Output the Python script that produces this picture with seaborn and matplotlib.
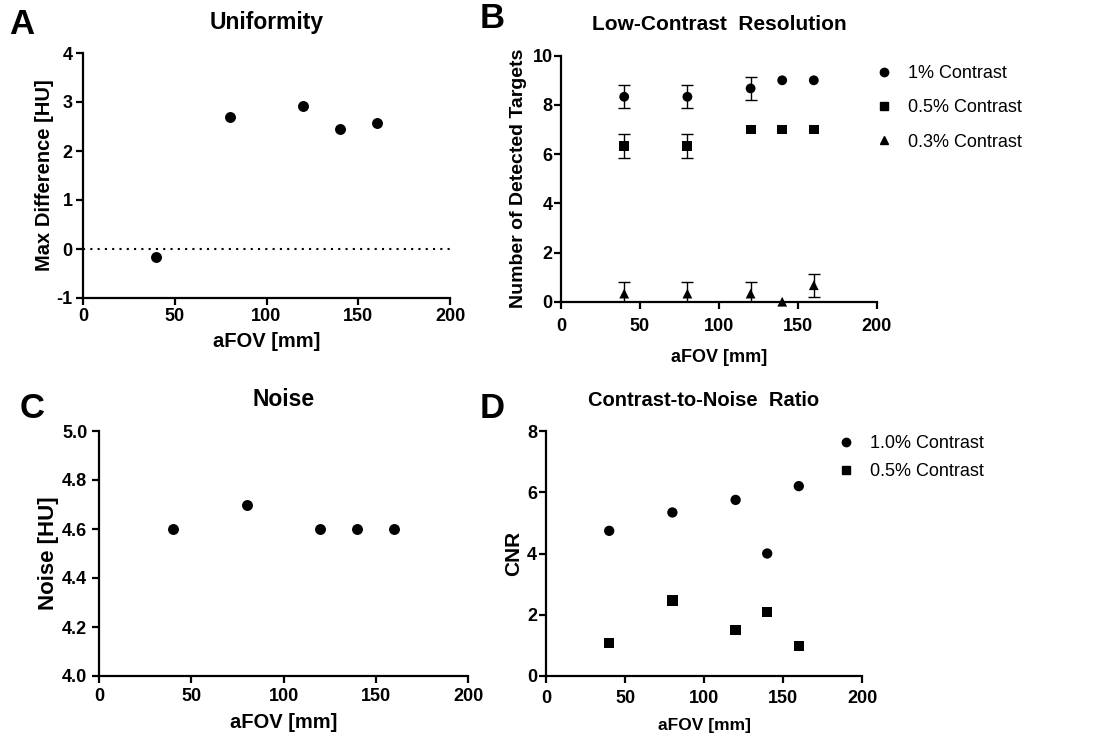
import numpy as np
import pandas as pd
import matplotlib
matplotlib.use("Agg")
import matplotlib.pyplot as plt
import seaborn as sns
from matplotlib.lines import Line2D

# ---------------- data ----------------
afov = [40, 80, 120, 140, 160]
unif_maxdiff = [-0.17, 2.70, 2.92, 2.45, 2.57]

lcr_1pct = [8.33, 8.33, 8.67, 9.0, 9.0]
lcr_1pct_err = [0.47, 0.47, 0.47, 0.0, 0.0]
lcr_05pct = [6.33, 6.33, 7.0, 7.0, 7.0]
lcr_05pct_err = [0.47, 0.47, 0.0, 0.0, 0.0]
lcr_03pct = [0.33, 0.33, 0.33, 0.0, 0.67]
lcr_03pct_err = [0.47, 0.47, 0.47, 0.0, 0.47]
lcr_labels = ["1% Contrast", "0.5% Contrast", "0.3% Contrast"]

noise_hu = [4.6, 4.7, 4.6, 4.6, 4.6]

cnr_1pct = [4.74, 5.34, 5.75, 4.0, 6.2]
cnr_05pct = [1.07, 2.47, 1.50, 2.08, 0.99]
cnr_labels = ["1.0% Contrast", "0.5% Contrast"]

panel_titles = ["Uniformity", "Low-Contrast  Resolution", "Noise", "Contrast-to-Noise  Ratio"]
panel_letters = ["A", "B", "C", "D"]
xlabel = "aFOV [mm]"
ylabels = ["Max Difference [HU]", "Number of Detected Targets", "Noise [HU]", "CNR"]

# ---------------- style ----------------
sns.set_style("ticks")
plt.rcParams["font.family"] = ["Liberation Sans", "DejaVu Sans"]
plt.rcParams["axes.unicode_minus"] = False
for k in ["text.color", "axes.labelcolor", "xtick.color", "ytick.color", "axes.edgecolor"]:
    plt.rcParams[k] = "black"

W, H = 1110, 738
fig = plt.figure(figsize=(W / 100, H / 100), dpi=100)


def px_axes(l, r, t, b):
    return fig.add_axes([l / W, 1 - b / H, (r - l) / W, (b - t) / H])


axA = px_axes(83, 450, 53, 298)
axB = px_axes(561, 877, 55.7, 301.7)
axC = px_axes(99, 468, 431, 676)
axD = px_axes(546, 862, 431, 676)

markers = {lcr_labels[0]: "o", lcr_labels[1]: "s", lcr_labels[2]: "^"}


def style_axis(ax, xpad, ypad):
    for s in ["top", "right"]:
        ax.spines[s].set_visible(False)
    for s in ["left", "bottom"]:
        ax.spines[s].set_linewidth(1.6)
        ax.spines[s].set_color("black")
    ax.tick_params(axis="both", direction="out", length=5, width=1.6,
                   color="black", labelcolor="black", labelsize=13)
    ax.tick_params(axis="x", pad=xpad)
    ax.tick_params(axis="y", pad=ypad)
    for lab in ax.get_xticklabels() + ax.get_yticklabels():
        lab.set_fontweight("bold")
    ax.grid(False)


# ---------------- A: uniformity ----------------
dfA = pd.DataFrame({"aFOV": afov, "val": unif_maxdiff})
sns.scatterplot(data=dfA, x="aFOV", y="val", ax=axA, color="black", s=62,
                marker="o", edgecolor="black", linewidth=0, zorder=3, clip_on=False)
axA.axhline(0, color="black", linestyle=(0, (1, 2.5)), linewidth=1.5, zorder=1)
axA.set_xlim(0, 200)
axA.set_ylim(-1, 4)
axA.set_xticks([0, 50, 100, 150, 200])
axA.set_yticks([-1, 0, 1, 2, 3, 4])

# ---------------- B: low contrast resolution ----------------
dfB = pd.DataFrame({
    "aFOV": afov * 3,
    "val": lcr_1pct + lcr_05pct + lcr_03pct,
    "err": lcr_1pct_err + lcr_05pct_err + lcr_03pct_err,
    "series": [lcr_labels[0]] * 5 + [lcr_labels[1]] * 5 + [lcr_labels[2]] * 5,
})
for lab in lcr_labels:
    sub = dfB[(dfB.series == lab) & (dfB.err > 0)]
    axB.errorbar(sub["aFOV"], sub["val"], yerr=sub["err"], fmt="none",
                 ecolor="black", elinewidth=1.0, capsize=4, capthick=1.0, zorder=2)
sns.scatterplot(data=dfB, x="aFOV", y="val", style="series", markers=markers,
                color="black", s=50, edgecolor="black", linewidth=0, ax=axB,
                legend=False, zorder=3, clip_on=False)
axB.set_xlim(0, 200)
axB.set_ylim(0, 10)
axB.set_xticks([0, 50, 100, 150, 200])
axB.set_yticks([0, 2, 4, 6, 8, 10])
hB = [Line2D([], [], linestyle="none", marker=markers[l], color="black",
             markersize=6) for l in lcr_labels]
axB.legend(hB, lcr_labels, loc="upper left", bbox_to_anchor=(866 / W, 1 - 58 / H),
           bbox_transform=fig.transFigure, frameon=False, fontsize=13,
           handletextpad=0.7, labelspacing=0.95, borderaxespad=0, handlelength=1.2)

# ---------------- C: noise ----------------
dfC = pd.DataFrame({"aFOV": afov, "val": noise_hu})
sns.scatterplot(data=dfC, x="aFOV", y="val", ax=axC, color="black", s=62,
                marker="o", edgecolor="black", linewidth=0, zorder=3, clip_on=False)
axC.set_xlim(0, 200)
axC.set_ylim(4.0, 5.0)
axC.set_xticks([0, 50, 100, 150, 200])
axC.set_yticks([4.0, 4.2, 4.4, 4.6, 4.8, 5.0])
axC.yaxis.set_major_formatter(matplotlib.ticker.FormatStrFormatter("%.1f"))

# ---------------- D: CNR ----------------
dfD = pd.DataFrame({
    "aFOV": afov * 2,
    "val": cnr_1pct + cnr_05pct,
    "series": [cnr_labels[0]] * 5 + [cnr_labels[1]] * 5,
})
markersD = {cnr_labels[0]: "o", cnr_labels[1]: "s"}
sns.scatterplot(data=dfD, x="aFOV", y="val", style="series", markers=markersD,
                color="black", s=55, edgecolor="black", linewidth=0, ax=axD,
                legend=False, zorder=3, clip_on=False)
axD.set_xlim(0, 200)
axD.set_ylim(0, 8)
axD.set_xticks([0, 50, 100, 150, 200])
axD.set_yticks([0, 2, 4, 6, 8])
hD = [Line2D([], [], linestyle="none", marker=markersD[l], color="black",
             markersize=6) for l in cnr_labels]
axD.legend(hD, cnr_labels, loc="upper left", bbox_to_anchor=(828 / W, 1 - 428 / H),
           bbox_transform=fig.transFigure, frameon=False, fontsize=13,
           handletextpad=0.7, labelspacing=0.6, borderaxespad=0, handlelength=1.2)

# ---------------- common styling ----------------
axes = [axA, axB, axC, axD]
xl_size = [14.5, 13, 14.5, 12.5]
yl_size = [14.5, 14, 16, 15]
x_tick_pads = [2.5, 7, 3.5, 5]
y_tick_pads = [2.5, 1, 3.5, 1.5]
xl_pads = [5, 10, 6, 8]
yl_pads = [2, 4, 2, 3]
for i, ax in enumerate(axes):
    ax.set_xlabel(xlabel, fontsize=xl_size[i], fontweight="bold", labelpad=xl_pads[i])
    ax.set_ylabel(ylabels[i], fontsize=yl_size[i], fontweight="bold", labelpad=yl_pads[i])
    style_axis(ax, x_tick_pads[i], y_tick_pads[i])

# titles and panel letters (pixel-placed)
title_pos = [(266.5, 23), (719, 25), (283.5, 399), (704, 401)]
title_size = [16.5, 15, 16.5, 14.5]
letter_pos = [(22, 25), (492, 18), (32, 408), (492, 409)]
for (tx, ty), t, fs in zip(title_pos, panel_titles, title_size):
    fig.text(tx / W, 1 - ty / H, t, ha="center", va="center", fontsize=fs,
             fontweight="bold")
for (lx, ly), t in zip(letter_pos, panel_letters):
    fig.text(lx / W, 1 - ly / H, t, ha="center", va="center", fontsize=25,
             fontweight="bold")

fig.savefig("out.png", dpi=100)
